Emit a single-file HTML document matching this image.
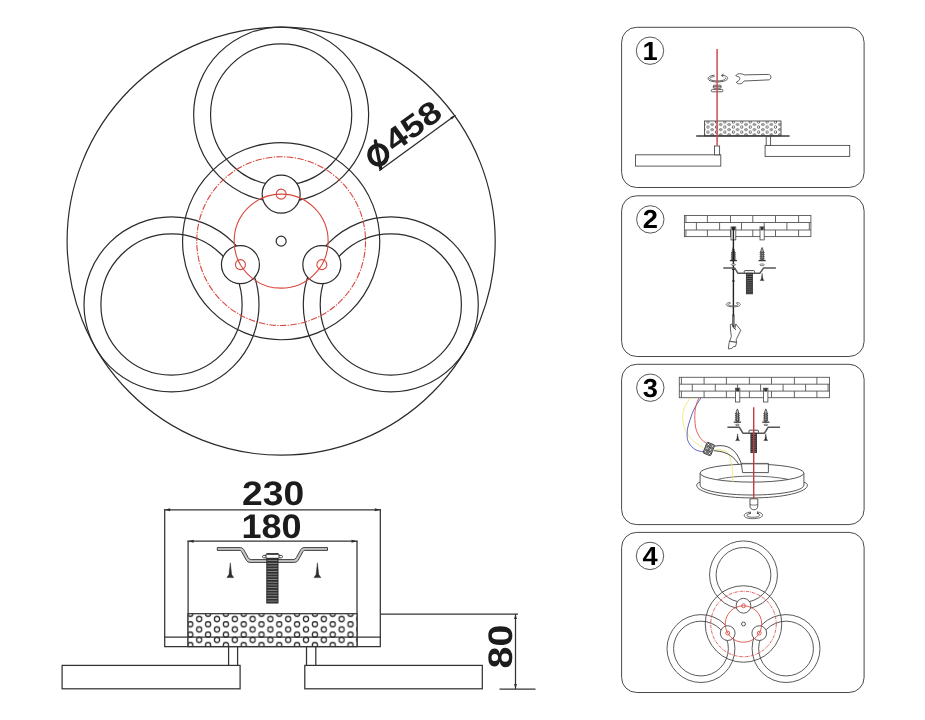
<!DOCTYPE html>
<html><head><meta charset="utf-8"><title>Lamp installation diagram</title>
<style>
html,body{margin:0;padding:0;background:#fff;}
body{width:925px;height:720px;overflow:hidden;font-family:"Liberation Sans",sans-serif;}
svg{display:block;}
.b{font-family:"Liberation Sans",sans-serif;font-weight:bold;fill:#1c1c1c;}
.n{font-family:"Liberation Sans",sans-serif;font-weight:bold;fill:#000;}
svg text{text-rendering:geometricPrecision;filter:grayscale(1);}
</style></head><body>
<svg width="925" height="720" viewBox="0 0 925 720">
<defs>
<pattern id="perf" x="199.2" y="619.05" width="17.8" height="10.4" patternUnits="userSpaceOnUse">
<rect width="17.8" height="10.4" fill="#fff" stroke="none"/>
<g fill="none" stroke="#2b2b2b" stroke-width="1.25">
<circle cx="0" cy="0" r="2.6"/><circle cx="17.8" cy="0" r="2.6"/><circle cx="0" cy="10.4" r="2.6"/><circle cx="17.8" cy="10.4" r="2.6"/><circle cx="8.9" cy="5.2" r="2.6"/>
</g></pattern>
<pattern id="perf2" x="703.75" y="119.4" width="8.45" height="5.1" patternUnits="userSpaceOnUse">
<rect width="8.45" height="5.1" fill="#fff" stroke="none"/>
<g fill="none" stroke="#3a3a3a" stroke-width="0.75">
<ellipse cx="0" cy="0" rx="1.35" ry="1.05"/><ellipse cx="8.45" cy="0" rx="1.35" ry="1.05"/><ellipse cx="0" cy="5.1" rx="1.35" ry="1.05"/><ellipse cx="8.45" cy="5.1" rx="1.35" ry="1.05"/><ellipse cx="4.22" cy="2.55" rx="1.1" ry="1.3"/>
</g></pattern>
<pattern id="thr2" x="0" y="273.2" width="4" height="1.9" patternUnits="userSpaceOnUse">
<rect width="4" height="1.9" fill="#777"/><rect width="4" height="1.1" fill="#262626"/></pattern>
<pattern id="thr3" x="0" y="433.1" width="4" height="1.9" patternUnits="userSpaceOnUse">
<rect width="4" height="1.9" fill="#777"/><rect width="4" height="1.1" fill="#222"/></pattern>
<pattern id="thr" x="0" y="558.4" width="4" height="2.7" patternUnits="userSpaceOnUse">
<rect width="4" height="2.7" fill="#8a8a8a"/><rect width="4" height="1.7" fill="#2c2c2c"/></pattern>
</defs>
<rect width="925" height="720" fill="#fff"/>
<!-- main top view -->
<g fill="none" stroke="#2b2b2b" stroke-width="1.2">
<circle cx="281.15" cy="241.15" r="214.05"/>
<circle cx="281.15" cy="241.15" r="98.60"/>
<circle cx="281.15" cy="114.55" r="87.50"/>
<circle cx="281.15" cy="114.55" r="70.60"/>
<circle cx="171.51" cy="304.45" r="87.50"/>
<circle cx="171.51" cy="304.45" r="70.60"/>
<circle cx="390.79" cy="304.45" r="87.50"/>
<circle cx="390.79" cy="304.45" r="70.60"/>
<circle cx="281.15" cy="194.15" r="19.00" fill="#fff"/>
<circle cx="240.45" cy="264.65" r="19.00" fill="#fff"/>
<circle cx="321.85" cy="264.65" r="19.00" fill="#fff"/>
<circle cx="281.15" cy="241.15" r="5.00"/>
</g>
<g fill="none" stroke="#d9483e" stroke-width="1.1">
<circle cx="281.15" cy="241.15" r="47.00"/>
<circle cx="281.15" cy="241.15" r="84.40" stroke-dasharray="6.5 1.4 1.3 1.4"/>
<circle cx="281.15" cy="194.15" r="5.00"/>
<circle cx="240.45" cy="264.65" r="5.00"/>
<circle cx="321.85" cy="264.65" r="5.00"/>
</g>
<line x1="379.2" y1="170.8" x2="455.4" y2="115.3" stroke="#2b2b2b" stroke-width="1.25"/>
<path d="M455.6 115.2L451.97 119.56L450.33 117.3Z" fill="#2b2b2b"/>
<g transform="translate(379.2,170.8) rotate(-36)"><text x="22.6" y="-5.7" class="b" font-size="31.5" transform="translate(22.6 0) scale(1.18,1) translate(-22.6 0)">458</text></g>
<ellipse cx="378.3" cy="154.9" rx="8.8" ry="9.5" transform="rotate(-11 378.3 154.9)" fill="none" stroke="#1c1c1c" stroke-width="4.4"/>
<line x1="375.4" y1="141" x2="380.7" y2="168.5" stroke="#1c1c1c" stroke-width="3.4" stroke-linecap="round"/>
<!-- side view -->
<g fill="none" stroke="#333" stroke-width="1.25">
<path d="M164.7 509.2V646.6H380.3V509.2"/>
<path d="M164 509.8H381"/>
<path d="M164.5 637.2H380.3"/>
<path d="M188.1 540.7V646.6M357 540.7V646.6"/>
<path d="M187.5 541.2H357.6"/>
<rect x="188" y="613.7" width="169" height="32.9" fill="url(#perf)"/>
<path d="M188 637.2H357"/>
<path d="M228.6 646.6V665.4M237.6 646.6V665.4M306.5 646.6V665.4M315.8 646.6V665.4"/>
<rect x="62.1" y="665.4" width="178" height="23.4"/>
<rect x="304.8" y="665.4" width="177.5" height="23.4"/>
<path d="M380.3 614.1H518"/>
<path d="M515.5 614.1V689"/>
<path d="M499.5 689H535.5"/>
</g>
<g fill="#2b2b2b" stroke="none">
<path d="M515.5 614.3l-1.4 4.8h2.8z"/><path d="M515.5 688.8l-1.4 -4.8h2.8z"/>
<path d="M164.7 509.8l5.5 -1.5v3z"/><path d="M380.3 509.8l-5.5 -1.5v3z"/>
<path d="M188.1 541.2l5.5 -1.5v3z"/><path d="M357 541.2l-5.5 -1.5v3z"/>
</g>
<path d="M217.3 547.6H240.5Q242.5 547.6 243.6 549.4L248.3 557.8Q249.3 559.6 251.3 559.6H293.2Q295.2 559.6 296.2 557.8L300.9 549.4Q302 547.6 304 547.6H327.5V550.4H304.6Q303.6 550.4 303 551.5L298.2 560.2Q297 562.4 294.6 562.4H249.9Q247.5 562.4 246.3 560.2L241.5 551.5Q240.9 550.4 239.9 550.4H217.3Z" fill="#c8c8c8" stroke="#2b2b2b" stroke-width="0.9"/>
<rect x="262.6" y="555.4" width="19.8" height="2.4" rx="1" fill="#fff" stroke="#2b2b2b" stroke-width="0.9"/>
<rect x="266" y="553.8" width="13" height="4.6" rx="1" fill="#fff" stroke="#2b2b2b" stroke-width="0.9"/>
<path d="M266.6 554H278.4" stroke="#2b2b2b" stroke-width="1.5" fill="none"/>
<rect x="266.8" y="558.4" width="11.2" height="44.6" fill="url(#thr)" stroke="#2b2b2b" stroke-width="1"/>
<path d="M230.3 562.8L231.60000000000002 574.5L233.70000000000002 577.6H226.9L229.0 574.5Z" fill="#2b2b2b" stroke="#2b2b2b" stroke-width="0.5"/>
<path d="M317.4 562.8L318.7 574.5L320.79999999999995 577.6H314.0L316.09999999999997 574.5Z" fill="#2b2b2b" stroke="#2b2b2b" stroke-width="0.5"/>
<text x="273.1" y="505.2" class="b" font-size="34" text-anchor="middle" transform="translate(273.1 0) scale(1.095 1) translate(-273.1 0)">230</text>
<text x="271.6" y="537.6" class="b" font-size="34" text-anchor="middle" transform="translate(271.6 0) scale(1.06 1) translate(-271.6 0)">180</text>
<g transform="translate(512.2 646.6) rotate(-90)"><text x="0" y="0" class="b" font-size="34" text-anchor="middle" transform="scale(1.155 1)">80</text></g>
<!-- panels -->
<rect x="621.6" y="27.3" width="242.5" height="160.2" rx="15" ry="15" fill="none" stroke="#484848" stroke-width="1"/>
<rect x="621.6" y="195.8" width="242.5" height="160.7" rx="15" ry="15" fill="none" stroke="#484848" stroke-width="1"/>
<rect x="621.6" y="364.3" width="242.5" height="160.3" rx="15" ry="15" fill="none" stroke="#484848" stroke-width="1"/>
<rect x="621.6" y="532.4" width="242.5" height="160.1" rx="15" ry="15" fill="none" stroke="#484848" stroke-width="1"/>
<circle cx="650" cy="50.7" r="13.7" fill="none" stroke="#444" stroke-width="0.9"/>
<text x="650" y="59.7" class="n" font-size="26" text-anchor="middle" transform="translate(650 0) scale(1.05 1) translate(-650 0)">1</text>
<circle cx="650.3" cy="219.4" r="13.7" fill="none" stroke="#444" stroke-width="0.9"/>
<text x="650.3" y="228.4" class="n" font-size="26" text-anchor="middle" transform="translate(650.3 0) scale(1.05 1) translate(-650.3 0)">2</text>
<circle cx="650.3" cy="387.7" r="13.7" fill="none" stroke="#444" stroke-width="0.9"/>
<text x="650.3" y="396.7" class="n" font-size="26" text-anchor="middle" transform="translate(650.3 0) scale(1.05 1) translate(-650.3 0)">3</text>
<circle cx="650" cy="555.9" r="13.7" fill="none" stroke="#444" stroke-width="0.9"/>
<text x="650" y="564.9" class="n" font-size="26" text-anchor="middle" transform="translate(650 0) scale(1.05 1) translate(-650 0)">4</text>
<!-- panel 1 -->
<g fill="none" stroke="#4a4a4a" stroke-width="0.9">
<path d="M726.5 76.6C728.8 78 727.8 80.6 722 81.6C716 82.6 709.6 81.6 708.3 79.4C707.2 77.2 710.5 75.5 714.6 75.2"/>
<path d="M725.2 77.6C726.4 78.6 725 80 721.4 80.6C716.5 81.4 711 80.7 709.9 79.2C709.2 77.9 711.6 76.8 714.6 76.5"/>
<path d="M721.5 75.4C723.6 75.2 725.3 75.7 726.5 76.6M721.5 75.4L723.6 74.1M721.5 75.4L723.4 77"/>
<rect x="713.3" y="85.2" width="7.8" height="3" rx="0.8" fill="#fff"/>
<path d="M713.3 86.7H721.1"/>
<rect x="711.3" y="89.4" width="11.6" height="2.4" rx="1.1" fill="#fff"/>
<path d="M744.1 74.9L768.3 74.4C771.8 74.4 771.8 79.9 768.3 79.9L744.1 81C743.2 82.7 741.4 83.8 739.3 83.8C738 83.8 736.9 83.2 736.3 82.3L738.3 80.9C739.6 80.2 740.2 78.6 739.6 77.4C739.2 76.8 738.6 76.7 737.8 76.6L735.8 75.7C736.4 74.6 737.7 73.7 739.3 73.7C741.4 73.7 743.2 74.2 744.1 74.9Z" fill="#fff"/>
</g>
<rect x="704.5" y="121" width="76.5" height="14.8" fill="url(#perf2)" stroke="#4a4a4a" stroke-width="0.9"/>
<path d="M696.2 136H789.6" stroke="#3a3a3a" stroke-width="1.5" fill="none"/>
<g fill="#fff" stroke="#4a4a4a" stroke-width="0.9">
<rect x="635.5" y="154.8" width="85.3" height="11.3"/>
<rect x="714.5" y="146" width="5.1" height="8.8"/>
<rect x="765.1" y="145.4" width="84.6" height="11"/>
<rect x="766.2" y="136.6" width="4.4" height="8.8"/>
</g>
<path d="M717.1 49V145.8" stroke="#cf4b4b" stroke-width="1.5" fill="none"/>
<!-- panel 2 -->
<g fill="none" stroke="#555" stroke-width="0.9">
<rect x="684.4" y="215.5" width="126.5" height="21.1" fill="#fff"/>
<path d="M684.4 222.5H810.9M684.4 230H810.9"/>
<path d="M685.9 215.5V222.5M685.9 230V236.6M707.4 215.5V222.5M707.4 230V236.6M730.5 215.5V222.5M730.5 230V236.6M752.8 215.5V222.5M752.8 230V236.6M775.5 215.5V222.5M775.5 230V236.6M798.6 215.5V222.5M798.6 230V236.6M696.4 222.5V230M719.6 222.5V230M741.5 222.5V230M764.2 222.5V230M786.9 222.5V230M809.3 222.5V230"/>
</g>
<rect x="731.0" y="226.9" width="4.8" height="13.0" fill="#fff" stroke="#444" stroke-width="0.8"/><rect x="731.6" y="226.9" width="3.6" height="3.4" fill="#333" stroke="none"/>
<rect x="760.0" y="226.9" width="4.2" height="13.0" fill="#fff" stroke="#444" stroke-width="0.8"/><rect x="760.6" y="226.9" width="3.0" height="3.4" fill="#333" stroke="none"/>
<path d="M733.4 227V315" stroke="#222" stroke-width="1.4" fill="none"/>
<g fill="#bbb" stroke="#3a3a3a" stroke-width="0.8">
<path d="M732.3 250.6L733.4 248L734.5 250.6V260.0H732.3Z"/>
<path d="M731.1999999999999 253.1L732.3 251.6M735.6 253.1L734.5 251.6M731.1999999999999 253.1H735.6M731.1999999999999 255.2L732.3 253.7M735.6 255.2L734.5 253.7M731.1999999999999 255.2H735.6M731.1999999999999 257.3L732.3 255.8M735.6 257.3L734.5 255.8M731.1999999999999 257.3H735.6M731.1999999999999 259.4L732.3 257.9M735.6 259.4L734.5 257.9M731.1999999999999 259.4H735.6"/>
<path d="M729.8 260.59999999999997H737.0" stroke-width="1.3"/>
</g>
<path d="M733.4 247V262" stroke="#222" stroke-width="1.2" fill="none"/>
<g fill="#bbb" stroke="#3a3a3a" stroke-width="0.8">
<path d="M761.0 250.1L762.1 247.5L763.2 250.1V260.0H761.0Z"/>
<path d="M759.9 252.6L761.0 251.1M764.3000000000001 252.6L763.2 251.1M759.9 252.6H764.3000000000001M759.9 254.7L761.0 253.2M764.3000000000001 254.7L763.2 253.2M759.9 254.7H764.3000000000001M759.9 256.8L761.0 255.3M764.3000000000001 256.8L763.2 255.3M759.9 256.8H764.3000000000001M759.9 258.9L761.0 257.4M764.3000000000001 258.9L763.2 257.4M759.9 258.9H764.3000000000001"/>
<path d="M758.5 260.59999999999997H765.7" stroke-width="1.3"/>
</g>
<ellipse cx="733.4" cy="264.6" rx="2.2" ry="0.8" fill="#fff" stroke="#444" stroke-width="0.7"/>
<ellipse cx="762.1" cy="264.8" rx="2.2" ry="0.9" fill="#fff" stroke="#444" stroke-width="0.7"/>
<path d="M723.3 267.9H734.6L737.8 273.2H760L763.6 267.9H775.9" fill="none" stroke="#555" stroke-width="1.5" stroke-linejoin="round"/>
<rect x="744.3" y="270.6" width="10.2" height="2.6" rx="0.8" fill="#fff" stroke="#333" stroke-width="0.9"/>
<rect x="746.4" y="273.2" width="6" height="20.6" fill="url(#thr2)" stroke="#333" stroke-width="0.9"/>
<path d="M762.1 273.4L762.9 279.0L764.1 280.6H760.1L761.3000000000001 279.0Z" fill="#2b2b2b" stroke="#2b2b2b" stroke-width="0.4"/>
<path d="M732 269.5H734.8M732 281H734.8" stroke="#222" stroke-width="1" fill="none"/>
<g fill="none" stroke="#555" stroke-width="0.8"><path d="M736.5 302.4C741 302.8 741.6 305.2 738.2 306.3C734.8 307.3 729 307 726.9 305.6C725.2 304.2 726.9 302.7 730.4 302.3"/><path d="M736.2 303.5C738.6 303.8 738.6 305 736.5 305.5C733.6 306.2 730.2 306 728.7 305.2C727.6 304.4 728.6 303.6 730.6 303.4"/></g>
<path d="M733.4 314.5V327.5" stroke="#333" stroke-width="2.2" fill="none"/>
<path d="M733.4 316.5V325" stroke="#999" stroke-width="0.7" fill="none"/>
<g fill="#fff" stroke="#3a3a3a" stroke-width="0.8" stroke-linejoin="round"><path d="M730.3 324.6L732.2 323.9L733 327.2L734.8 329L735.8 323.9L740.8 330.2L736.2 339.6L736.6 342.4L729.6 341.2L731.4 336.5L730.6 331Z"/><path d="M729.4 341.3L736.6 342.4L735.6 346.3L733.2 346.7L731.8 348.4L728.3 348.9Z"/><path d="M734.8 329L736 329.8"/></g>
<!-- panel 3 -->
<g fill="none" stroke="#555" stroke-width="0.9">
<rect x="679.3" y="377.3" width="150.2" height="20.4" fill="#fff"/>
<path d="M679.3 384.2H829.5M679.3 391.1H829.5"/>
<path d="M681.4 377.3V384.2M681.4 391.1V397.7M704.1 377.3V384.2M704.1 391.1V397.7M726.4 377.3V384.2M726.4 391.1V397.7M749.4 377.3V384.2M749.4 391.1V397.7M771.5 377.3V384.2M771.5 391.1V397.7M794.4 377.3V384.2M794.4 391.1V397.7M816.9 377.3V384.2M816.9 391.1V397.7M692.3 384.2V391.1M715.3 384.2V391.1M737.6 384.2V391.1M760.6 384.2V391.1M783.1 384.2V391.1M805.6 384.2V391.1M828.1 384.2V391.1"/>
</g>
<rect x="735.5" y="388.2" width="4.3" height="13.8" fill="#fff" stroke="#444" stroke-width="0.8"/><rect x="736.1" y="388.2" width="3.1" height="3.4" fill="#333" stroke="none"/>
<rect x="763.6" y="388.2" width="4.3" height="13.8" fill="#fff" stroke="#444" stroke-width="0.8"/><rect x="764.2" y="388.2" width="3.1" height="3.4" fill="#333" stroke="none"/>
<g fill="#bbb" stroke="#3a3a3a" stroke-width="0.8">
<path d="M736.3 411.5L737.4 408.9L738.5 411.5V421.6H736.3Z"/>
<path d="M735.1999999999999 414.0L736.3 412.5M739.6 414.0L738.5 412.5M735.1999999999999 414.0H739.6M735.1999999999999 416.1L736.3 414.6M739.6 416.1L738.5 414.6M735.1999999999999 416.1H739.6M735.1999999999999 418.2L736.3 416.7M739.6 418.2L738.5 416.7M735.1999999999999 418.2H739.6M735.1999999999999 420.3L736.3 418.8M739.6 420.3L738.5 418.8M735.1999999999999 420.3H739.6"/>
<path d="M733.8 422.2H741.0" stroke-width="1.3"/>
</g>
<g fill="#bbb" stroke="#3a3a3a" stroke-width="0.8">
<path d="M764.6999999999999 411.5L765.8 408.9L766.9 411.5V421.6H764.6999999999999Z"/>
<path d="M763.5999999999999 414.0L764.6999999999999 412.5M768.0 414.0L766.9 412.5M763.5999999999999 414.0H768.0M763.5999999999999 416.1L764.6999999999999 414.6M768.0 416.1L766.9 414.6M763.5999999999999 416.1H768.0M763.5999999999999 418.2L764.6999999999999 416.7M768.0 418.2L766.9 416.7M763.5999999999999 418.2H768.0M763.5999999999999 420.3L764.6999999999999 418.8M768.0 420.3L766.9 418.8M763.5999999999999 420.3H768.0"/>
<path d="M762.1999999999999 422.2H769.4" stroke-width="1.3"/>
</g>
<ellipse cx="737.4" cy="424.9" rx="2" ry="0.7" fill="#fff" stroke="#444" stroke-width="0.7"/>
<ellipse cx="765.8" cy="424.9" rx="2" ry="0.7" fill="#fff" stroke="#444" stroke-width="0.7"/>
<path d="M727.4 427.2H739.2L742.9 433.2H764.5L768.2 427.2H780" fill="none" stroke="#555" stroke-width="1.6" stroke-linejoin="round"/>
<rect x="749.0" y="430.2" width="9.4" height="3.0" rx="0.8" fill="#fff" stroke="#333" stroke-width="0.9"/>
<rect x="750.9" y="433.2" width="5.6" height="19.4" fill="url(#thr3)" stroke="#333" stroke-width="0.9"/>
<path d="M737.6 433.8L738.4 439.0L739.6 440.6H735.6L736.8000000000001 439.0Z" fill="#2b2b2b" stroke="#2b2b2b" stroke-width="0.4"/>
<path d="M765.8 433.8L766.5999999999999 439.0L767.8 440.6H763.8L765.0 439.0Z" fill="#2b2b2b" stroke="#2b2b2b" stroke-width="0.4"/>
<g fill="none" stroke-width="0.85">
<path d="M690.6 397.8C685.5 404 682.6 409.5 682.6 417C682.6 426 685.5 432.5 691.7 439.4C695.5 443.4 699.5 445.6 703.4 447.2" stroke="#efe76f"/>
<path d="M701.1 397.8C696.5 404 693.6 409.5 691.7 415C689.5 421.5 687.4 427 687.2 431.7C687 436.5 687 439 688.3 441.7C690 445.5 692.5 447.8 695 449.4C697.8 451 700.6 451.5 703.3 451.7" stroke="#4549b8"/>
<path d="M698.9 397.8C696.8 402.5 695.4 407 695 411.7C694.6 417 694.8 422.5 695.6 427.2C696.4 431.5 698.2 435 700.6 438.3C702.4 440.6 704.4 442 706.7 443.3" stroke="#d8463c"/>
<path d="M714.4 450C718 449.6 722 449.8 725 450.8C728 452 729.6 455.5 730.6 459.4C731.8 464 732.4 468 732.8 472.8" stroke="#efe76f"/>
<path d="M715 446.1C719 445.4 723.5 445.4 727.2 446.7C731.8 448.4 734.8 451.5 737.2 455C739.3 458.2 740.6 461.8 741.7 465" stroke="#2a2a2a"/>
<path d="M713.9 450.6C717.5 451.2 721.5 451.4 725 452.8C729.5 454.4 732.6 456.8 735 459.4C737.8 462.4 739.8 466 741.7 469.4" stroke="#2a2a2a"/>
</g>
<g transform="translate(708.9 449) rotate(22)" fill="#fff" stroke="#2e2e2e" stroke-width="0.8"><rect x="-4.1" y="-5.8" width="8.2" height="11.6" rx="0.8" fill="#ddd"/><path d="M-4.1 -1.95H4.1M-4.1 1.95H4.1M0 -5.8V5.8" stroke-width="0.7"/><g stroke-width="0.75" fill="#fff"><circle cx="-2.05" cy="-3.9" r="1.15"/><circle cx="2.05" cy="-3.9" r="1.15"/><circle cx="-2.05" cy="0" r="1.15"/><circle cx="2.05" cy="0" r="1.15"/><circle cx="-2.05" cy="3.9" r="1.15"/><circle cx="2.05" cy="3.9" r="1.15"/></g></g>
<g fill="none" stroke="#444" stroke-width="0.9">
<path d="M696.7 485.2C696.7 492.2 721 497.9 752 497.9C783 497.9 807.4 492.2 807.4 485.2C807.4 483.8 806.2 482.8 803.9 482.2M696.7 485.2C696.7 483.8 697.9 482.8 700.1 482.2"/>
<path d="M700.1 473.1V485.2C700.1 490.6 723.3 495 752 495C780.7 495 803.9 490.6 803.9 485.2V473.1" fill="#fff"/>
<ellipse cx="752" cy="473.1" rx="51.9" ry="9" fill="#fff"/>
<path d="M718.2 479.3C727 477.2 739 476.1 752 476.1C765 476.1 777 477.2 788.2 479.3" stroke-width="0.8"/>
<path d="M741.3 463.6H768.4V472.6H742.6Z" fill="#fff"/>
<path d="M741.3 463.6H768.4" stroke="#666" stroke-width="1.4"/>
</g>
<path d="M731.6 463.5C732.4 468 732.7 475 732.9 483.2" fill="none" stroke="#efe76f" stroke-width="0.85"/>
<path d="M753.7 407.2V498.4" stroke="#c23c3c" stroke-width="1.4" fill="none"/>
<path d="M750 498.8H757.8V506C757.8 511 750 511 750 506Z" fill="#fff" stroke="#444" stroke-width="0.9"/>
<path d="M750 504.4C752 505.4 755.8 505.4 757.8 504.4" fill="none" stroke="#444" stroke-width="0.7"/>
<g fill="none" stroke="#444" stroke-width="0.8"><path d="M757 511.9C763.5 512.6 764.5 516.6 759 518C753.5 519.2 746.5 518.8 744.6 516.6C743.2 514.6 745.6 512.6 750.8 512"/><path d="M756.8 513.4C760.8 514 760.6 516 757.4 516.8C753.6 517.6 748.6 517.4 747.2 516C746.2 514.8 747.8 513.8 750.8 513.4"/><path d="M757 511.9L758.8 513.6L756.8 513.4M750.8 512L749.4 513.6L750.8 513.4"/></g>
<!-- panel 4 -->
<g fill="none" stroke="#3c3c3c" stroke-width="0.85">
<circle cx="743.5" cy="624.0" r="38.26"/>
<circle cx="743.50" cy="574.88" r="33.95"/>
<circle cx="743.50" cy="574.88" r="27.39"/>
<circle cx="700.96" cy="648.56" r="33.95"/>
<circle cx="700.96" cy="648.56" r="27.39"/>
<circle cx="786.04" cy="648.56" r="33.95"/>
<circle cx="786.04" cy="648.56" r="27.39"/>
<circle cx="743.50" cy="605.76" r="7.37" fill="#fff"/>
<circle cx="727.71" cy="633.12" r="7.37" fill="#fff"/>
<circle cx="759.29" cy="633.12" r="7.37" fill="#fff"/>
<circle cx="743.5" cy="624.0" r="1.94"/>
</g>
<g fill="none" stroke="#d9483e" stroke-width="0.85">
<circle cx="743.5" cy="624.0" r="18.24"/>
<circle cx="743.5" cy="624.0" r="32.75" stroke-dasharray="3.2 0.9 0.8 0.9"/>
<circle cx="743.50" cy="605.76" r="1.94"/>
<circle cx="727.71" cy="633.12" r="1.94"/>
<circle cx="759.29" cy="633.12" r="1.94"/>
</g>
</svg>
</body></html>
